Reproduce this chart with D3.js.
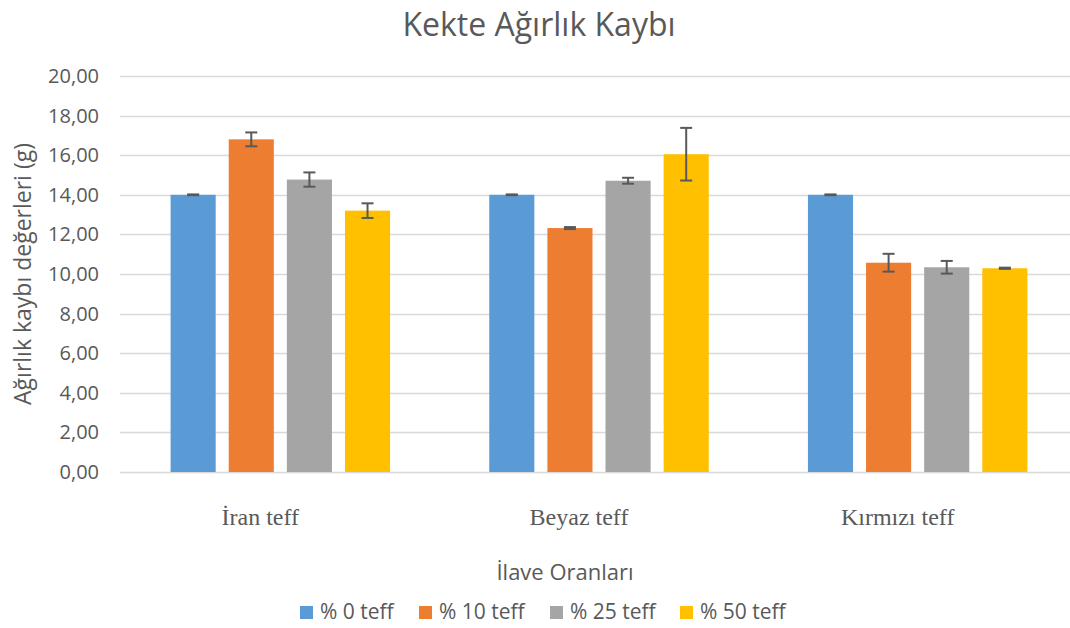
<!DOCTYPE html>
<html lang="tr">
<head>
  <meta charset="UTF-8">
  <title>Kekte Ağırlık Kaybı</title>
  <script src="https://cdn.jsdelivr.net/npm/d3@7"></script>
  <style>
    body { margin: 0; background: #fff; }
    text { font-family: "Open Sans", "Noto Sans", sans-serif; fill: #595959; }
  </style>
</head>
<body>
<svg id="chart" width="1070" height="628"></svg>
<script>
  const categories = ["İran teff", "Beyaz teff", "Kırmızı teff"];
  const seriesNames = ["% 0 teff", "% 10 teff", "% 25 teff", "% 50 teff"];
  // values per series, in category order
  const values = [
    [14.00, 14.00, 14.00],
    [16.80, 12.32, 10.57],
    [14.77, 14.71, 10.34],
    [13.20, 16.05, 10.29]
  ];
  const errors = [
    [0.02, 0.02, 0.02],
    [0.35, 0.05, 0.45],
    [0.36, 0.15, 0.32],
    [0.37, 1.33, 0.03]
  ];
  const yTicks = [0, 2, 4, 6, 8, 10, 12, 14, 16, 18, 20];
  const colors = ["#5B9BD5", "#ED7D31", "#A5A5A5", "#FFC000"];

  const svg = d3.select("#chart");
  const plotLeft = 121, plotRight = 1077, plotTop = 76, plotBottom = 472;

  const y = d3.scaleLinear().domain([0, 20]).range([plotBottom, plotTop]);
  const x0 = d3.scaleBand().domain(categories).range([plotLeft, plotRight]);
  const x1 = d3.scaleBand().domain(seriesNames).range([0, x0.bandwidth()])
    .paddingInner(0.224).paddingOuter(0.853);

  // title
  svg.append("text")
    .attr("x", 539).attr("y", 36)
    .attr("text-anchor", "middle")
    .attr("font-size", 32)
    .text("Kekte Ağırlık Kaybı");

  // gridlines
  svg.append("g")
    .selectAll("line")
    .data(yTicks)
    .enter().append("line")
    .attr("x1", plotLeft - 1).attr("x2", plotRight)
    .attr("y1", d => Math.round(y(d)) + 0.5)
    .attr("y2", d => Math.round(y(d)) + 0.5)
    .attr("stroke", "#d9d9d9")
    .attr("stroke-width", 1.3);

  // y tick labels
  svg.append("g")
    .selectAll("text")
    .data(yTicks)
    .enter().append("text")
    .attr("x", 99)
    .attr("y", d => y(d) + 7)
    .attr("text-anchor", "end")
    .attr("font-size", 20)
    .text(d => d.toFixed(2).replace(".", ","));

  // bars
  const groups = svg.append("g")
    .selectAll("g")
    .data(seriesNames)
    .enter().append("g")
    .attr("fill", (d, i) => colors[i]);

  groups.selectAll("rect")
    .data((s, i) => categories.map((c, j) => ({ s, c, v: values[i][j], e: errors[i][j] })))
    .enter().append("rect")
    .attr("x", d => x0(d.c) + x1(d.s))
    .attr("y", d => y(d.v))
    .attr("width", x1.bandwidth())
    .attr("height", d => y(0) - y(d.v));

  // error bars
  const errG = svg.append("g")
    .attr("stroke", "#595959")
    .attr("stroke-width", 2);

  seriesNames.forEach((s, i) => {
    categories.forEach((c, j) => {
      const cx = x0(c) + x1(s) + x1.bandwidth() / 2;
      const hi = y(values[i][j] + errors[i][j]);
      const lo = y(values[i][j] - errors[i][j]);
      errG.append("line").attr("x1", cx).attr("x2", cx).attr("y1", hi).attr("y2", lo);
      errG.append("line").attr("x1", cx - 6).attr("x2", cx + 6).attr("y1", hi).attr("y2", hi);
      errG.append("line").attr("x1", cx - 6).attr("x2", cx + 6).attr("y1", lo).attr("y2", lo);
    });
  });

  // category labels
  svg.append("g")
    .selectAll("text")
    .data(categories)
    .enter().append("text")
    .attr("x", d => x0(d) + x0.bandwidth() / 2 - 20)
    .attr("y", 525)
    .attr("text-anchor", "middle")
    .style("font-family", "'Liberation Serif', 'Times New Roman', serif")
    .attr("font-size", 24)
    .text(d => d);

  // axis titles
  svg.append("text")
    .attr("x", 565).attr("y", 580)
    .attr("text-anchor", "middle")
    .attr("font-size", 22)
    .text("İlave Oranları");

  svg.append("text")
    .attr("transform", "translate(31,274) rotate(-90)")
    .attr("text-anchor", "middle")
    .attr("font-size", 23)
    .text("Ağırlık kaybı değerleri (g)");

  // legend
  const legendX = [300, 419, 550, 680];
  const legend = svg.append("g")
    .selectAll("g")
    .data(seriesNames)
    .enter().append("g")
    .attr("transform", (d, i) => `translate(${legendX[i]},606)`);

  legend.append("rect")
    .attr("width", 13).attr("height", 13)
    .attr("fill", (d, i) => colors[i]);

  legend.append("text")
    .attr("x", 20).attr("y", 13)
    .attr("font-size", 21)
    .text(d => d);
</script>
</body>
</html>
